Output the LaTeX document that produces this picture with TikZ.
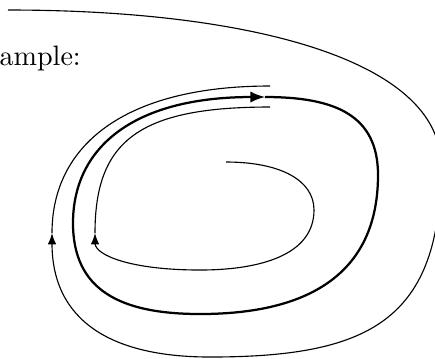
\documentclass[tikz,border=0pt]{standalone}
\usepackage{tikz}

\begin{document}
\begin{tikzpicture}[x=0.0125cm,y=-0.0125cm,>=latex]
  \useasboundingbox (0,0) rectangle (435,358);
  \clip (0,0) rectangle (435,358);
  % Caption, cut at the left edge.
  \node[anchor=base west, inner sep=0pt] (example) at (-35,65.5) {Example:};
  % Outer orbit, winding in towards the cycle.
  \draw[->] (8,10) .. controls (250,10) and (441,60) .. (441,165)
            .. controls (441,320) and (370,357) .. (210,357)
            .. controls (110,357) and (52,320) .. (52,233);
  \draw (52,233) .. controls (52,145) and (125,86) .. (270,86);
  % The limit cycle.
  \draw[thick, ->] (73,223) .. controls (73,150) and (130,97) .. (265,97);
  \draw[thick] (265,97) .. controls (335,97) and (378,115) .. (378,175)
               .. controls (378,265) and (320,314) .. (200,314)
               .. controls (120,314) and (73,290) .. (73,223);
  % Inner orbit, winding out towards the cycle.
  \draw[->] (226,162) .. controls (280,162) and (314,180) .. (314,210)
            .. controls (314,255) and (260,270) .. (200,270)
            .. controls (130,270) and (95,255) .. (95,233);
  \draw (95,233) .. controls (95,140) and (140,107) .. (270,107);
\end{tikzpicture}
\end{document}
